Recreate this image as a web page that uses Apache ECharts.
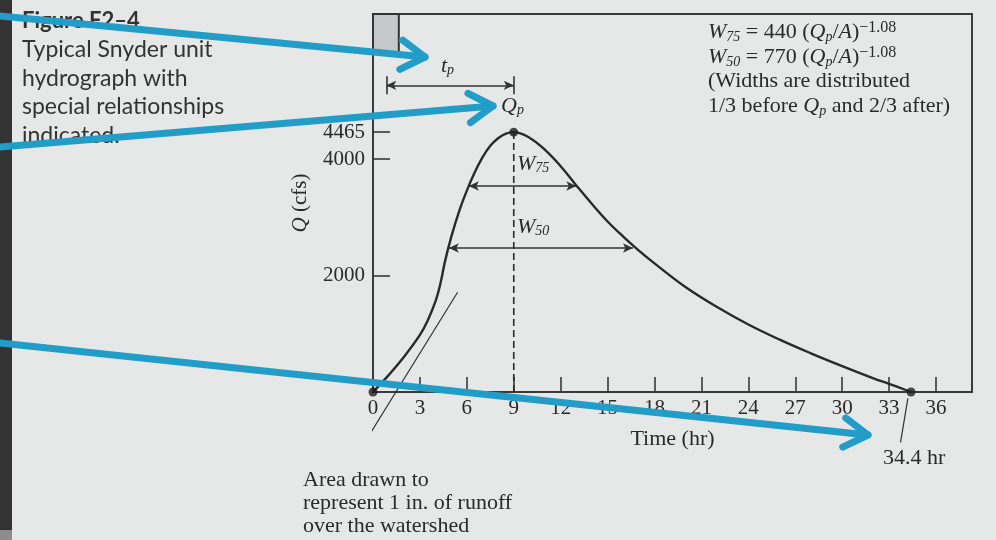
<!DOCTYPE html>
<html>
<head>
<meta charset="utf-8">
<script src="https://cdn.jsdelivr.net/npm/echarts@6/dist/echarts.min.js"></script>
<style>
  html, body { margin: 0; padding: 0; background: #e6e7e7; }
  #chart { width: 996px; height: 540px; }
</style>
</head>
<body>
<div id="chart"></div>
<script>
// Typical Snyder synthetic unit hydrograph

const hourTicks = [0, 3, 6, 9, 12, 15, 18, 21, 24, 27, 30, 33, 36];
const flowTicks = [2000, 4000, 4465];

const curveTimeHr = [0, 1, 2, 3, 3.5, 4, 4.3, 4.6, 5, 5.5, 6, 6.5, 7, 7.5, 8, 8.5, 9,
  10, 11, 12, 13, 14, 15, 16, 17, 18, 20, 22, 24, 26, 28, 30, 32, 33, 34.4];
const curveFlowCfs = [0, 290, 610, 980, 1230, 1560, 1850, 2240, 2660, 3100, 3460, 3770, 4030, 4230, 4360, 4440, 4465,
  4370, 4160, 3880, 3550, 3230, 2930, 2670, 2430, 2210, 1800, 1460, 1160, 900, 665, 445, 235, 140, 0];

const peakTimeHr = 9;
const peakFlowCfs = 4465;
const baseTimeHr = 34.4;

const rainHr = [0, 1.65];          // unit-duration rainfall block
const lagStartHr = 0.85;           // centroid of the rainfall block

const widthNames = ['W75', 'W50'];
const widthFlowCfs = [3540, 2474];
const widthStartHr = [6.13, 4.85];
const widthEndHr = [13.0, 16.62];

// ---- layout ----
const X_MAX = 38.3, Y_MAX = 6495;
const LAG_LEVEL = 5270, RAIN_BOTTOM = 5842, BAR_HALF = 155;
const INK = '#2a2a2a';
const SERIF = "'Liberation Serif', 'DejaVu Serif', serif";
const SANS = 'Lato, "Noto Sans", sans-serif';
const BLUE = '#219dc7';

const curve = curveTimeHr.map((t, i) => [t, curveFlowCfs[i]]);

const arrowLines = [
  [{ coord: [lagStartHr, LAG_LEVEL] }, { coord: [peakTimeHr, LAG_LEVEL] }]
];
widthNames.forEach((n, i) => {
  arrowLines.push([{ coord: [widthStartHr[i], widthFlowCfs[i]] }, { coord: [widthEndHr[i], widthFlowCfs[i]] }]);
});
const barLines = [lagStartHr, peakTimeHr].map(t => [
  { coord: [t, LAG_LEVEL - BAR_HALF], symbol: 'none' },
  { coord: [t, LAG_LEVEL + BAR_HALF], symbol: 'none' }
]);

function blueArrow(from, tip) {
  const a = Math.atan2(tip[1] - from[1], tip[0] - from[0]);
  const L = 28, th = 0.55;
  const p1 = [tip[0] - L * Math.cos(a - th), tip[1] - L * Math.sin(a - th)];
  const p2 = [tip[0] - L * Math.cos(a + th), tip[1] - L * Math.sin(a + th)];
  const st = { stroke: BLUE, lineWidth: 7, lineCap: 'round', lineJoin: 'round', fill: null };
  return [
    { type: 'polyline', z: 100, silent: true, shape: { points: [from, tip] }, style: st },
    { type: 'polyline', z: 100, silent: true, shape: { points: [p1, tip, p2] }, style: st }
  ];
}

const serifText = (x, y, text) => ({
  type: 'text', x: x, y: y, z: 20, silent: true,
  style: {
    text: text, fill: INK, fontSize: 22, fontFamily: SERIF,
    align: 'left', verticalAlign: 'middle',
    rich: {
      i: { fontStyle: 'italic', fontSize: 22, fontFamily: SERIF, fill: INK },
      sub: { fontStyle: 'italic', fontSize: 14, fontFamily: SERIF, fill: INK, verticalAlign: 'bottom', lineHeight: 8 }
    }
  }
});

const chart = echarts.init(document.getElementById('chart'), null, { renderer: 'canvas' });

chart.setOption({
  animation: false,
  backgroundColor: '#e6e7e7',
  grid: {
    left: 373, top: 14, width: 599, height: 378,
    containLabel: false, outerBoundsMode: 'none',
    show: true, borderColor: '#3a3a3a', borderWidth: 2, backgroundColor: 'transparent'
  },
  xAxis: {
    type: 'value', min: 0, max: X_MAX,
    name: 'Time (hr)', nameLocation: 'middle', nameGap: 36,
    nameTextStyle: { fontSize: 22, fontFamily: SERIF, color: INK },
    axisLine: { show: true, lineStyle: { color: '#3a3a3a', width: 2 } },
    axisTick: { show: true, inside: true, length: 15, customValues: hourTicks, lineStyle: { color: '#3a3a3a', width: 1.6 } },
    axisLabel: { show: true, customValues: hourTicks, margin: 6, fontSize: 21, fontFamily: SERIF, color: INK, formatter: v => String(v) },
    splitLine: { show: false }
  },
  yAxis: {
    type: 'value', min: 0, max: Y_MAX,
    name: '{q|Q} (cfs)', nameLocation: 'middle', nameGap: 62, nameRotate: 90,
    nameTextStyle: {
      fontSize: 21, fontFamily: SERIF, color: INK,
      rich: { q: { fontStyle: 'italic', fontSize: 21, fontFamily: SERIF, color: INK } }
    },
    axisLine: { show: true, lineStyle: { color: '#3a3a3a', width: 2 } },
    axisTick: { show: true, inside: true, length: 17, customValues: flowTicks, lineStyle: { color: '#3a3a3a', width: 1.6 } },
    axisLabel: { show: true, customValues: flowTicks, margin: 8, fontSize: 21, fontFamily: SERIF, color: INK, formatter: v => String(v) },
    splitLine: { show: false }
  },
  series: [
    {
      name: 'unit hydrograph', type: 'line', data: curve,
      smooth: 0.4, showSymbol: false, silent: true, z: 4,
      lineStyle: { color: INK, width: 2.4 },
      markArea: {
        silent: true,
        itemStyle: { color: '#c7c8ca', borderColor: '#333', borderWidth: 2 },
        data: [[{ coord: [rainHr[0], RAIN_BOTTOM] }, { coord: [rainHr[1], Y_MAX] }]]
      },
      markLine: {
        silent: true, animation: false,
        symbol: ['arrow', 'arrow'], symbolSize: [7, 10],
        label: { show: false },
        lineStyle: { color: '#333', width: 1.6, type: 'solid' },
        data: arrowLines.concat(barLines)
      }
    },
    {
      name: 'peak line', type: 'line', silent: true, showSymbol: false, z: 3,
      data: [[peakTimeHr, 0], [peakTimeHr, peakFlowCfs]],
      lineStyle: { color: INK, width: 1.6, type: [7, 4] }
    },
    {
      name: 'leaders', type: 'line', silent: true, showSymbol: false, clip: false, z: 3,
      data: [[5.41, 1713], [-1.63, -1345], null, [baseTimeHr - 0.2, -110], [baseTimeHr - 0.67, -866]],
      connectNulls: false,
      lineStyle: { color: '#333', width: 1.2 }
    },
    {
      name: 'key points', type: 'scatter', silent: true, clip: false, z: 6,
      data: [[0, 0], [peakTimeHr, peakFlowCfs], [baseTimeHr, 0]],
      symbolSize: 9, itemStyle: { color: '#1e1e1e' }
    }
  ],
  graphic: [
    { type: 'rect', z: 0, silent: true, shape: { x: 0, y: 0, width: 12, height: 540 }, style: { fill: '#333333' } },
    { type: 'rect', z: 1, silent: true, shape: { x: 0, y: 530, width: 12, height: 10 }, style: { fill: '#8c8c8c' } },
    {
      type: 'text', x: 22, y: 7, z: 20, silent: true,
      style: {
        text: '{b|Figure F2–4}\nTypical Snyder unit\nhydrograph with\nspecial relationships\nindicated.',
        fill: '#333', fontSize: 23, fontFamily: SANS, lineHeight: 28.5,
        align: 'left', verticalAlign: 'top',
        rich: { b: { fontWeight: 'bold', fontSize: 22, fontFamily: SANS, fill: '#333', lineHeight: 28.5 } }
      }
    },
    {
      type: 'text', x: 708, y: 20, z: 20, silent: true,
      style: {
        text: '{i|W}{s|75} = 440 ({i|Q}{s|p}/{i|A}){u|−1.08}\n{i|W}{s|50} = 770 ({i|Q}{s|p}/{i|A}){u|−1.08}\n(Widths are distributed\n1/3 before {i|Q}{s|p} and 2/3 after)',
        fill: INK, fontSize: 22, fontFamily: SERIF, lineHeight: 24.5,
        align: 'left', verticalAlign: 'top',
        rich: {
          i: { fontStyle: 'italic', fontSize: 22, fontFamily: SERIF, fill: INK, lineHeight: 24.5 },
          s: { fontStyle: 'italic', fontSize: 14, fontFamily: SERIF, fill: INK, verticalAlign: 'bottom', lineHeight: 10 },
          u: { fontSize: 16, fontFamily: SERIF, fill: INK, verticalAlign: 'top', lineHeight: 17 }
        }
      }
    },
    serifText(441, 66, '{i|t}{sub|p}'),
    serifText(501, 106, '{i|Q}{sub|p}'),
    serifText(517, 164, '{i|W}{sub|75}'),
    serifText(517, 227, '{i|W}{sub|50}'),
    {
      type: 'text', x: 303, y: 468.5, z: 20, silent: true,
      style: {
        text: 'Area drawn to\nrepresent 1 in. of runoff\nover the watershed',
        fill: INK, fontSize: 22, fontFamily: SERIF, lineHeight: 23, align: 'left', verticalAlign: 'top'
      }
    },
    serifText(883, 458, '34.4 hr')
  ].concat(
    blueArrow([0, 16], [425, 57]),
    blueArrow([0, 147], [493, 106]),
    blueArrow([0, 343], [868, 435])
  )
});
</script>
</body>
</html>
